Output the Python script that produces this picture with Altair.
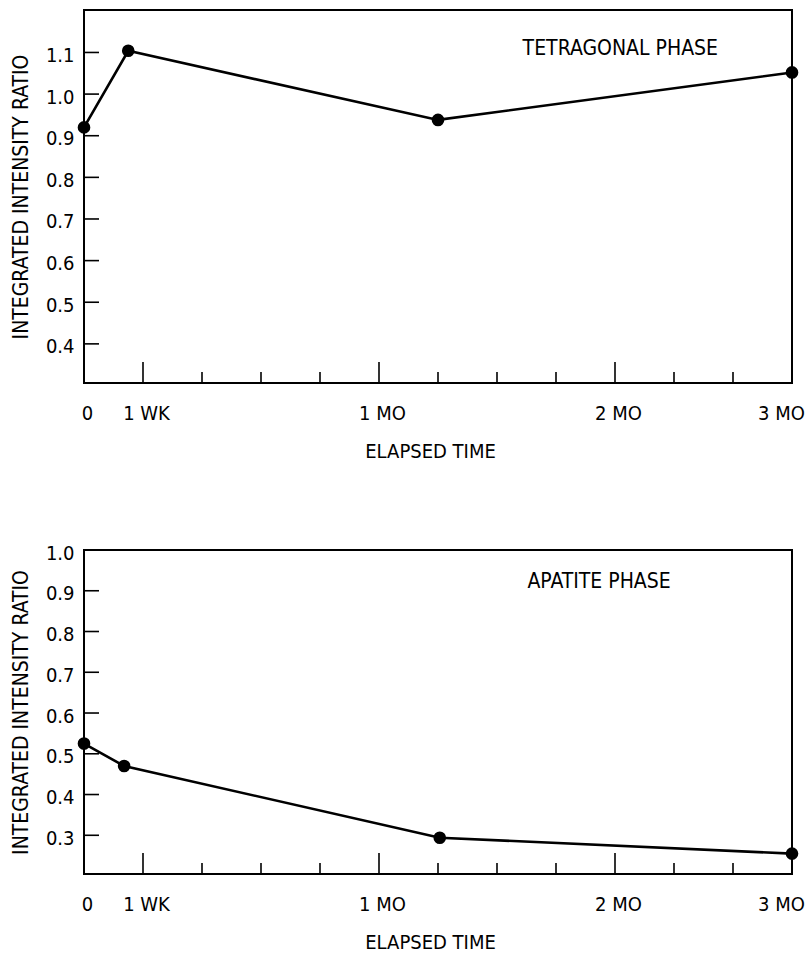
import altair as alt
import pandas as pd

FONT = "DejaVu Sans Condensed, Liberation Sans, sans-serif"

# x positions in weekly tick units (0 .. 12)
axis_ticks = [0, 1, 5, 9, 12]
axis_labels = ["0", "1 WK", "1 MO", "2 MO", "3 MO"]
major_ticks = [1, 5, 9]
minor_ticks = [2, 3, 4, 6, 7, 8, 10, 11]

# Tetragonal phase
tet_time = [0, 0.75, 6.0, 12]
tet_ratio = [0.92, 1.104, 0.938, 1.052]
tet_yticks = [0.4, 0.5, 0.6, 0.7, 0.8, 0.9, 1.0, 1.1]
tet_domain = [0.306, 1.202]

# Apatite phase
apa_time = [0, 0.68, 6.03, 12]
apa_ratio = [0.525, 0.47, 0.294, 0.255]
apa_yticks = [0.3, 0.4, 0.5, 0.6, 0.7, 0.8, 0.9, 1.0]
apa_domain = [0.205, 1.0]

W = 708


def label_expr():
    expr = "''"
    for v, lab in reversed(list(zip(axis_ticks, axis_labels))):
        expr = f"datum.value === {v} ? '{lab}' : ({expr})"
    return expr


def panel(times, ratios, yticks, domain, height, label, lx, ly):
    xs = alt.Scale(domain=[0, 12], nice=False, zero=False)
    ys = alt.Scale(domain=domain, nice=False, zero=False)
    df = pd.DataFrame({"t": times, "r": ratios})

    xaxis = alt.Axis(
        values=axis_ticks, labelExpr=label_expr(), title="ELAPSED TIME",
        domain=False, ticks=False, grid=False, labelPadding=20, labelFlush=False,
        labelOffset={"condition": {"test": "datum.value === 12", "value": -11}, "value": 3},
        titlePadding=18, titleX=346,
    )
    yaxis = alt.Axis(
        values=yticks, format=".1f", title="INTEGRATED INTENSITY RATIO",
        domain=False, ticks=False, grid=False, labelPadding=10, labelOffset=3,
        titlePadding=14, titleFontSize=21,
    )

    base = alt.Chart(df)
    line = base.mark_line(color="black", strokeWidth=2.6).encode(
        x=alt.X("t:Q", scale=xs, axis=xaxis),
        y=alt.Y("r:Q", scale=ys, axis=yaxis),
    )
    pts = base.mark_circle(color="black", opacity=1, size=160).encode(
        x=alt.X("t:Q", scale=xs), y=alt.Y("r:Q", scale=ys)
    )
    minor = alt.Chart(pd.DataFrame({"t": minor_ticks})).mark_rule(
        color="black", strokeWidth=1.6
    ).encode(x=alt.X("t:Q", scale=xs), y=alt.value(height), y2=alt.value(height - 11))
    major = alt.Chart(pd.DataFrame({"t": major_ticks})).mark_rule(
        color="black", strokeWidth=1.6
    ).encode(x=alt.X("t:Q", scale=xs), y=alt.value(height), y2=alt.value(height - 21))
    yt = alt.Chart(pd.DataFrame({"v": yticks})).mark_rule(
        color="black", strokeWidth=1.6
    ).encode(y=alt.Y("v:Q", scale=ys), x=alt.value(0), x2=alt.value(15))
    txt = alt.Chart(pd.DataFrame({"x": [lx], "y": [ly], "s": [label]})).mark_text(
        font=FONT, fontSize=21, color="black", align="center", baseline="middle"
    ).encode(x=alt.X("x:Q", scale=xs), y=alt.Y("y:Q", scale=ys), text="s:N")

    return alt.layer(yt, minor, major, line, pts, txt).properties(width=W, height=height)


top = panel(tet_time, tet_ratio, tet_yticks, tet_domain, 373,
            "TETRAGONAL PHASE", 9.09, 1.109)
bottom = panel(apa_time, apa_ratio, apa_yticks, apa_domain, 324,
               "APATITE PHASE", 8.73, 0.922)

chart = alt.vconcat(top, bottom, spacing=80).properties(
    padding={"top": 9, "left": 9, "right": 0, "bottom": 0},
    background="white",
).configure_view(
    stroke="black", strokeWidth=2
).configure_axis(
    labelFont=FONT, titleFont=FONT, labelFontSize=20, titleFontSize=20,
    labelColor="black", titleColor="black", titleFontWeight="normal",
)

chart.save("out.html", embed_options={"renderer": "svg", "actions": False})
